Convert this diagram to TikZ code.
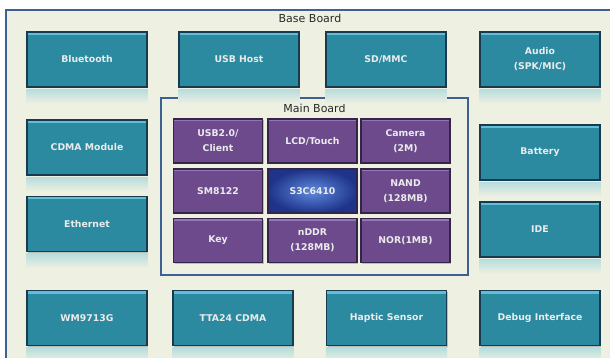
\documentclass[tikz,border=0pt]{standalone}
\usepackage{fontspec}
\setmainfont{DejaVu Sans}
\usepackage{tikz}
\usetikzlibrary{shadows}
\definecolor{boardbg}{RGB}{238,240,226}
\definecolor{boardline}{RGB}{62,96,148}
\definecolor{tealfill}{RGB}{44,138,160}
\definecolor{teallight}{RGB}{98,190,214}
\definecolor{tealdark}{RGB}{24,58,78}
\definecolor{purplefill}{RGB}{108,74,140}
\definecolor{purplelight}{RGB}{150,118,182}
\definecolor{purpledark}{RGB}{52,36,72}
\definecolor{cpuinner}{RGB}{96,138,222}
\definecolor{cpuouter}{RGB}{30,52,138}
\definecolor{titletext}{RGB}{40,40,40}

\begin{document}
\begin{tikzpicture}[x=1pt,y=-1pt,
	base node/.style={rectangle, draw=tealdark, line width=1.1pt, text=white!92!black,
		font=\fontsize{9.3}{15}\selectfont\bfseries, align=center, inner sep=0pt,
		drop shadow={shadow xshift=1pt, shadow yshift=-1.2pt, opacity=0.45}},
	ext node/.style={base node, fill=tealfill, minimum width=120pt, minimum height=55pt,
		path picture={\fill[teallight] (path picture bounding box.north west) rectangle ([yshift=-3pt]path picture bounding box.north east);}},
	core node/.style={base node, draw=purpledark, fill=purplefill, minimum width=89pt, minimum height=44pt,
		path picture={\fill[purplelight] (path picture bounding box.north west) rectangle ([yshift=-2.5pt]path picture bounding box.north east);}},
	cpu node/.style={base node, draw=purpledark, inner color=cpuinner, outer color=cpuouter, minimum width=89pt, minimum height=44pt},
	board title/.style={text=titletext, font=\fontsize{11}{12}\selectfont}]
	
	\path[clip] (0,0) rectangle (610,358);
	\fill[white] (0,0) rectangle (610,358);
	
	% base board
	\draw[boardline, fill=boardbg, line width=1.4pt] (6,10) rectangle (620,370);
	\node[board title] (basetitle) at (310,18.5) {Base Board};
	
	% main board
	\draw[boardline, line width=1.4pt] (161,98) rectangle (468,275);
	\node[board title] (maintitle) at (314.5,108) {Main Board};
	
	% outer blocks
	\node[ext node] (bt) at (87,59.5) {Bluetooth};
	\node[ext node] (usbh) at (239,59.5) {USB Host};
	\node[ext node] (sd) at (386,59.5) {SD/MMC};
	\node[ext node] (audio) at (540,59.5) {Audio\\(SPK/MIC)};
	\node[ext node] (cdma) at (87,147.5) {CDMA Module};
	\node[ext node] (batt) at (540,152.5) {Battery};
	\node[ext node] (eth) at (87,224) {Ethernet};
	\node[ext node] (ide) at (540,229.5) {IDE};
	\node[ext node] (wm) at (87,318) {WM9713G};
	\node[ext node] (tta) at (233,318) {TTA24 CDMA};
	\node[ext node] (haptic) at (386.5,318) {Haptic Sensor};
	\node[ext node] (debug) at (540,318) {Debug Interface};
	
	% soft reflection under the outer blocks
	\foreach \n in {bt,usbh,sd,audio,cdma,batt,eth,ide,wm,tta,haptic,debug}
		\shade[top color=teallight!40!boardbg, bottom color=boardbg]
			([yshift=-1.5pt]\n.south west) rectangle ([yshift=-16pt]\n.south east);
	
	% main board blocks
	\node[core node] (usbc) at (218,141) {USB2.0/\\Client};
	\node[core node] (lcd) at (312.5,141) {LCD/Touch};
	\node[core node] (cam) at (405.5,141) {Camera\\(2M)};
	\node[core node] (sm) at (218,191) {SM8122};
	\node[cpu node] (cpu) at (312.5,191) {S3C6410};
	\node[core node] (nand) at (405.5,191) {NAND\\(128MB)};
	\node[core node] (key) at (218,240.5) {Key};
	\node[core node] (ddr) at (312.5,240.5) {nDDR\\(128MB)};
	\node[core node] (nor) at (405.5,240.5) {NOR(1MB)};
	
\end{tikzpicture}
\end{document}
